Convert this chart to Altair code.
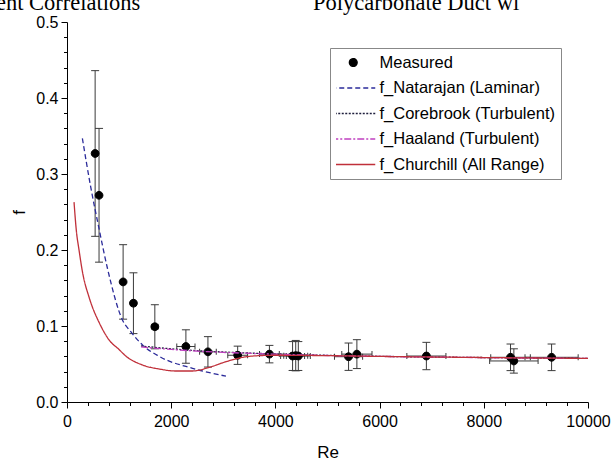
import altair as alt
import pandas as pd

FONT = "Liberation Sans"
SERIF = "Liberation Serif"

# ---- measured friction factor (with uncertainty in f and Re) ----
re_meas = [540, 615, 1077, 1275, 1686, 2282, 2705, 3276, 3885, 4330, 4390, 4440,
           5404, 5564, 6898, 8513, 8577, 9301]
f_meas = [0.327, 0.272, 0.158, 0.130, 0.099, 0.073, 0.066, 0.0615, 0.063, 0.0605,
          0.061, 0.0605, 0.0596, 0.063, 0.0605, 0.0588, 0.054, 0.0588]
f_err = [0.109, 0.088, 0.049, 0.040, 0.029, 0.022, 0.020, 0.012, 0.0115, 0.019,
         0.020, 0.019, 0.018, 0.019, 0.018, 0.0175, 0.016, 0.0175]
re_err = [15, 15, 45, 50, 60, 175, 160, 190, 190, 230, 230, 230,
          270, 290, 375, 380, 465, 510]

# ---- correlation curves ----
re_natarajan = [295, 455, 615, 776, 1064, 1224, 1449, 1770, 2410, 3051]
f_natarajan = [0.347, 0.283, 0.228, 0.176, 0.108, 0.0925, 0.075, 0.060, 0.0443, 0.034]

re_turb = [1420, 2000, 2500, 3000, 4000, 5000, 6000, 7000, 8000, 9000, 10000]
f_corebrook = [0.0737, 0.0700, 0.0675, 0.0658, 0.0632, 0.0614, 0.0601, 0.0592,
               0.0585, 0.0579, 0.0574]
f_haaland = [0.0724, 0.0692, 0.0669, 0.0653, 0.0629, 0.0612, 0.0600, 0.0591,
             0.0584, 0.0578, 0.0573]

re_churchill = [135, 180, 231, 300, 423, 487, 600, 808, 1000, 1128, 1449, 1770,
                2090, 2410, 2730, 3051, 3371, 3692, 4000, 5000, 6000, 7000, 8000,
                9000, 10000]
f_churchill = [0.263, 0.225, 0.200, 0.170, 0.138, 0.125, 0.107, 0.0816, 0.069,
               0.0605, 0.0487, 0.0434, 0.0408, 0.0408, 0.0456, 0.053, 0.0588,
               0.061, 0.0615, 0.0610, 0.0600, 0.0592, 0.0585, 0.0579, 0.0574]

series_names = ["Measured", "f_Natarajan (Laminar)", "f_Corebrook (Turbulent)",
                "f_Haaland (Turbulent)", "f_Churchill (All Range)"]
series_colors = ["#000000", "#2b2b9a", "#1e1e3c", "#c040c0", "#c0303a"]
series_dashes = [[1, 0], [5, 3], [2, 1.5], [7, 2, 2, 2], [1, 0]]
dot_path = "M-0.78,0A0.78,0.78,0,1,0,0.78,0A0.78,0.78,0,1,0,-0.78,0Z"
seg_path = "M-4.4,0H4.4"
series_shapes = [dot_path, seg_path, seg_path, seg_path, seg_path]

header_left = "ent Correlations"
header_right = "Polycarbonate Duct wi"

x_ticks = list(range(0, 10001, 400))
y_ticks = [round(i * 0.02, 2) for i in range(26)]

# ---- tables ----
meas = pd.DataFrame({"Re": re_meas, "f": f_meas, "fe": f_err, "ree": re_err})
meas["f_lo"] = meas["f"] - meas["fe"]
meas["f_hi"] = meas["f"] + meas["fe"]
meas["Re_lo"] = meas["Re"] - meas["ree"]
meas["Re_hi"] = meas["Re"] + meas["ree"]
meas["series"] = "Measured"

curves = pd.concat([
    pd.DataFrame({"Re": re_natarajan, "f": f_natarajan, "series": series_names[1]}),
    pd.DataFrame({"Re": re_turb, "f": f_corebrook, "series": series_names[2]}),
    pd.DataFrame({"Re": re_turb, "f": f_haaland, "series": series_names[3]}),
    pd.DataFrame({"Re": re_churchill, "f": f_churchill, "series": series_names[4]}),
], ignore_index=True)

# ---- axes ----
x_axis = alt.Axis(
    values=x_ticks,
    labelExpr="(round(datum.value / 400) % 5 === 0) ? format(datum.value, 'd') : ''",
    tickSize={"condition": {"test": "round(datum.value / 400) % 5 === 0", "value": 6}, "value": 3.5},
    labelOverlap=False, labelFlush=False, grid=False,
    labelFontSize=16, titleFontSize=17, titlePadding=15, labelPadding=5,
)
y_axis = alt.Axis(
    values=y_ticks,
    labelExpr="(round(datum.value * 50) % 5 === 0) ? format(datum.value, '.1f') : ''",
    tickSize={"condition": {"test": "round(datum.value * 50) % 5 === 0", "value": 6}, "value": 3.5},
    labelOverlap=False, grid=False,
    labelFontSize=16, titleFontSize=17, titlePadding=7, labelPadding=3,
)
x_scale = alt.Scale(domain=[0, 10000], nice=False)
y_scale = alt.Scale(domain=[0, 0.5], nice=False)


def xq(field):
    return alt.X(f"{field}:Q", scale=x_scale, axis=x_axis, title="Re")


def yq(field):
    return alt.Y(f"{field}:Q", scale=y_scale, axis=y_axis, title="f")


legend = alt.Legend(
    title=None, orient="none", legendX=263, legendY=26,
    fillColor="white", strokeColor="#888888", padding=6,
    symbolSize=100, symbolOffset=9, labelOffset=18,
    labelFont=FONT, labelFontSize=16.5, labelLimit=300, labelColor="black",
    rowPadding=8.5, clipHeight=17, symbolStrokeWidth=1.3, symbolOpacity=1,
)
color_scale = alt.Scale(domain=series_names, range=series_colors)
dash_scale = alt.Scale(domain=series_names, range=series_dashes)
shape_scale = alt.Scale(domain=series_names, range=series_shapes)

bar_color = "#3a3a3a"
base = alt.Chart(meas)

y_bars = base.mark_rule(color=bar_color, strokeWidth=1).encode(
    x=xq("Re"), y=yq("f_lo"), y2="f_hi")
y_caps_hi = base.mark_tick(orient="horizontal", size=8, thickness=1, color=bar_color,
                           opacity=1).encode(x=xq("Re"), y=yq("f_hi"))
y_caps_lo = base.mark_tick(orient="horizontal", size=8, thickness=1, color=bar_color,
                           opacity=1).encode(x=xq("Re"), y=yq("f_lo"))
x_bars = base.mark_rule(color=bar_color, strokeWidth=1).encode(
    x=xq("Re_lo"), x2="Re_hi", y=yq("f"))
x_caps_lo = base.mark_tick(orient="vertical", size=6, thickness=1, color=bar_color,
                           opacity=1).encode(x=xq("Re_lo"), y=yq("f"))
x_caps_hi = base.mark_tick(orient="vertical", size=6, thickness=1, color=bar_color,
                           opacity=1).encode(x=xq("Re_hi"), y=yq("f"))

points = base.mark_point(size=100, opacity=1, strokeWidth=1).encode(
    x=xq("Re"), y=yq("f"),
    shape=alt.Shape("series:N", scale=shape_scale, legend=legend),
    fill=alt.Fill("series:N", scale=color_scale, legend=legend),
    stroke=alt.Stroke("series:N", scale=color_scale, legend=legend),
)

lines = alt.Chart(curves).mark_line(strokeWidth=1.3, interpolate="monotone").encode(
    x=xq("Re"), y=yq("f"),
    stroke=alt.Stroke("series:N", scale=color_scale, legend=legend),
    strokeDash=alt.StrokeDash("series:N", scale=dash_scale, legend=legend),
)

# partial page-heading lines above the plot
headers = alt.Chart(pd.DataFrame({"t": [header_left, header_right],
                                  "px": [-71, 246]})).mark_text(
    align="left", baseline="alphabetic", font=SERIF, fontSize=22.5, color="black"
).encode(x=alt.X("px:Q", scale=None), y=alt.value(-12), text="t:N")

chart = alt.layer(
    y_bars, y_caps_hi, y_caps_lo, x_bars, x_caps_lo, x_caps_hi, points, lines, headers
).properties(
    width=521, height=380,
    autosize=alt.AutoSizeParams(type="none"),
    padding={"left": 67, "top": 22, "right": 23, "bottom": 59},
    background="white",
).configure_view(
    strokeWidth=0
).configure_axis(
    domainColor="black", tickColor="black", labelColor="black", titleColor="black",
    labelFont=FONT, titleFont=FONT, titleFontWeight="normal", domainWidth=1, tickWidth=1,
)

chart.save("out.html", embed_options={"renderer": "svg", "actions": False})
